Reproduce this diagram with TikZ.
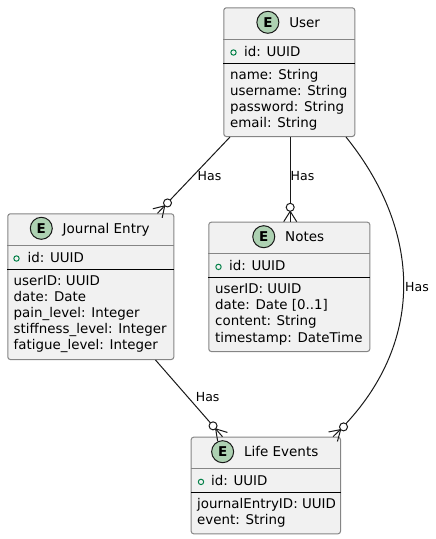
\documentclass[tikz,border=0pt]{standalone}
\usepackage{fontspec}
\setmainfont{DejaVu Sans}
\usetikzlibrary{calc,positioning}
\definecolor{entfill}{HTML}{F1F1F1}
\definecolor{entline}{HTML}{858585}
\definecolor{ecircfill}{HTML}{ADD1B2}
\definecolor{idgreen}{HTML}{038048}
\definecolor{relline}{HTML}{181818}
\def\crowfoot(#1)(#2){\draw[rel] ($(#1)+(#2:10.4)$) -- ($(#1)+(#2+90:6.5)$); \draw[rel] ($(#1)+(#2:10.4)$) -- ($(#1)+(#2-90:6.5)$); \draw[rel, fill=white] ($(#1)+(#2:14.4)$) circle (4pt);}
\tikzset{
	entbox/.style={draw=entline, fill=entfill, line width=1pt, rounded corners=2.5pt, anchor=north west, inner sep=0pt},
	enttitle/.style={anchor=base, inner sep=0pt, text height=10pt, text depth=0pt, font=\fontsize{13.5}{16}\selectfont},
	ecirc/.style={circle, draw=relline, fill=ecircfill, line width=1pt, minimum size=22pt, inner sep=0pt, font=\fontsize{13.5}{16}\selectfont\bfseries},
	attr/.style={anchor=base west, inner sep=0pt, font=\fontsize{13.4}{16}\selectfont},
	has/.style={anchor=west, inner sep=0pt, font=\fontsize{12.5}{15}\selectfont},
	rel/.style={draw=relline, line width=1pt},
	graydiv/.style={draw=entline, line width=1pt},
	blackdiv/.style={draw=black, line width=1pt},
	idmark/.style={draw=idgreen, line width=1pt}
}
\begin{document}
\begin{tikzpicture}[x=1pt, y=-1pt]
			%%%%% START %%%%%
			\useasboundingbox (0,0) rectangle (436,539);
			
			% User
			\node[entbox, minimum width=131pt, minimum height=128.7pt] (user) at (223.3,7.3) {};
			\draw[graydiv] ([yshift=-32pt]user.north west) -- ([yshift=-32pt]user.north east);
			\draw[blackdiv] ([yshift=-56pt]user.north west) -- ([yshift=-56pt]user.north east);
			\node[enttitle] (user-t) at (304.65,27.3) {User};
			\node[ecirc, left=9.7pt of user-t] (user-e) {E};
			\draw[idmark] (233.5,52.5) circle (2.7pt);
			\node[attr] (user-id) at (244,56) {id: UUID};
			\node[attr] (user-a) at (230,79) {name: String};
			\node[attr] (user-b) at (230,95.2) {username: String};
			\node[attr] (user-c) at (230,111.4) {password: String};
			\node[attr] (user-d) at (230,127.6) {email: String};
			
			% Journal Entry
			\node[entbox, minimum width=166pt, minimum height=145.7pt] (journal) at (7.3,213.3) {};
			\draw[graydiv] ([yshift=-32pt]journal.north west) -- ([yshift=-32pt]journal.north east);
			\draw[blackdiv] ([yshift=-56pt]journal.north west) -- ([yshift=-56pt]journal.north east);
			\node[enttitle] (journal-t) at (106.15,233.3) {Journal Entry};
			\node[ecirc, left=9.7pt of journal-t] (journal-e) {E};
			\draw[idmark] (16.5,258.5) circle (2.7pt);
			\node[attr] (journal-id) at (27.5,262) {id: UUID};
			\node[attr] (journal-a) at (13.5,285) {userID: UUID};
			\node[attr] (journal-b) at (13.5,301.2) {date: Date};
			\node[attr] (journal-c) at (13.5,317.4) {pain\_level: Integer};
			\node[attr] (journal-d) at (13.5,333.6) {stiffness\_level: Integer};
			\node[attr] (journal-f) at (13.5,349.8) {fatigue\_level: Integer};
			
			% Notes
			\node[entbox, minimum width=161pt, minimum height=129.3pt] (notes) at (208.3,221.7) {};
			\draw[graydiv] ([yshift=-32pt]notes.north west) -- ([yshift=-32pt]notes.north east);
			\draw[blackdiv] ([yshift=-56pt]notes.north west) -- ([yshift=-56pt]notes.north east);
			\node[enttitle] (notes-t) at (304.65,241.7) {Notes};
			\node[ecirc, left=9.7pt of notes-t] (notes-e) {E};
			\draw[idmark] (218.5,266.9) circle (2.7pt);
			\node[attr] (notes-id) at (229,270.4) {id: UUID};
			\node[attr] (notes-a) at (215,293.4) {userID: UUID};
			\node[attr] (notes-b) at (215,309.6) {date: Date [0..1]};
			\node[attr] (notes-c) at (215,325.8) {content: String};
			\node[attr] (notes-d) at (215,342) {timestamp: DateTime};
			
			% Life Events
			\node[entbox, minimum width=149.3pt, minimum height=96.6pt] (life) at (190.7,436.7) {};
			\draw[graydiv] ([yshift=-32pt]life.north west) -- ([yshift=-32pt]life.north east);
			\draw[blackdiv] ([yshift=-56pt]life.north west) -- ([yshift=-56pt]life.north east);
			\node[enttitle] (life-t) at (281.2,456.7) {Life Events};
			\node[ecirc, left=9.7pt of life-t] (life-e) {E};
			\draw[idmark] (201,481.9) circle (2.7pt);
			\node[attr] (life-id) at (211,485.4) {id: UUID};
			\node[attr] (life-a) at (197,508.4) {journalEntryID: UUID};
			\node[attr] (life-b) at (197,524.6) {event: String};
			
			% relations
			\draw[rel] ([xshift=6.7pt]user.south west) -- ([xshift=-16.8pt]journal.north east);
			\node[has] (has-j) at (197.5,175.7) {Has};
			\draw[rel] ([xshift=0.9pt]user.south) -- ([xshift=0.9pt]notes.north);
			\node[has] (has-n) at (290.5,175.7) {Has};
			\draw[rel] ([xshift=-9.3pt]user.south east) .. controls (425,235) and (425,350) .. ([xshift=-8pt]life.north east);
			\node[has] (has-l) at (405,286.7) {Has};
			\draw[rel] ([xshift=-18.8pt]journal.south east) -- ([xshift=31.8pt]life.north west);
			\node[has] (has-e) at (195.7,397.3) {Has};
			
			\crowfoot([xshift=-16.8pt]journal.north east)(-46)
			\crowfoot([xshift=0.9pt]notes.north)(-90)
			\crowfoot([xshift=-8pt]life.north east)(-43)
			\crowfoot([xshift=31.8pt]life.north west)(-131)
			%%%%% END %%%%%
\end{tikzpicture}
\end{document}
